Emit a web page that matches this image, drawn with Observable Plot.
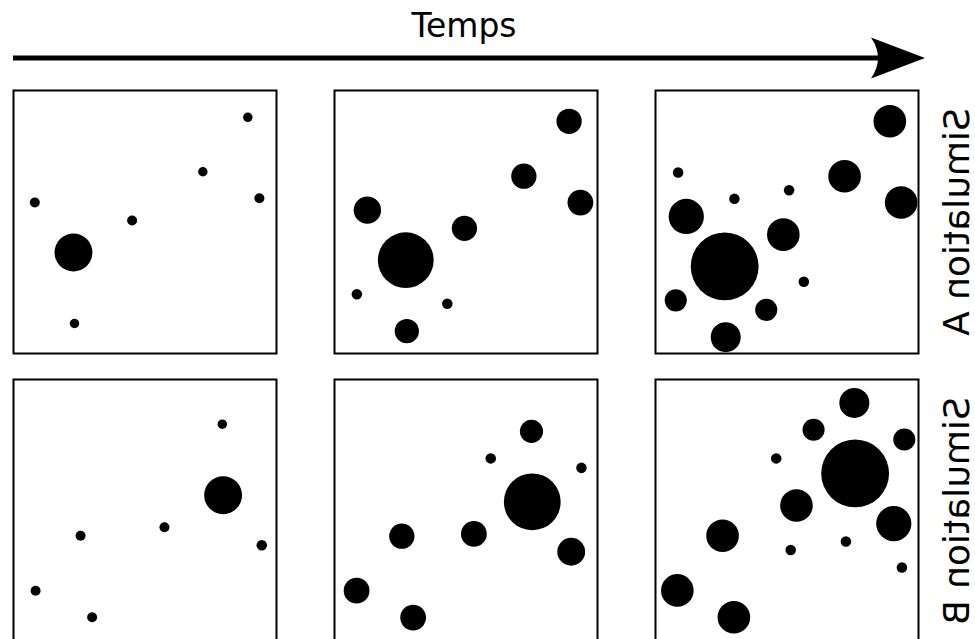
<!DOCTYPE html>
<html>
<head>
<meta charset="utf-8">
<script src="https://cdn.jsdelivr.net/npm/d3@7"></script>
<script src="https://cdn.jsdelivr.net/npm/@observablehq/plot@0.6"></script>
<style>
  html, body { margin: 0; padding: 0; background: #fff; overflow: hidden; width: 975px; height: 639px; }
  svg { display: block; }
</style>
</head>
<body>
<div id="chart"></div>
<script>
const title = "Temps";
const simulations = ["Simulation A", "Simulation B"];
const steps = [1, 2, 3];

// Each entry: [x, y, radius] in panel units (panel = 0–100 on both axes, y upward)
const simA_t1 = [
  [89.1, 89.8, 1.8], [72.0, 69.1, 1.8], [8.1, 57.4, 1.9], [93.5, 59.0, 1.9],
  [45.1, 50.6, 1.9], [22.8, 38.4, 7.2], [23.2, 11.4, 1.8]
];
const simA_t2 = [
  [89.2, 88.3, 4.8], [72.0, 67.4, 4.8], [12.5, 54.5, 5.2], [93.5, 57.4, 4.9],
  [49.4, 47.6, 4.8], [27.1, 35.5, 10.6], [8.5, 22.5, 2.0], [42.9, 18.9, 2.0],
  [27.5, 8.5, 4.6]
];
const simA_t3 = [
  [89.1, 88.3, 6.2], [71.9, 67.4, 6.2], [8.6, 68.8, 2.0], [30.0, 58.8, 2.0],
  [50.8, 62.1, 2.0], [93.4, 57.4, 6.2], [11.7, 52.1, 6.7], [48.6, 45.2, 6.2],
  [26.3, 33.1, 12.9], [56.4, 27.3, 2.0], [7.7, 20.2, 4.2], [42.1, 16.6, 4.2],
  [26.7, 6.2, 5.7]
];
const simB_t1 = [
  [79.4, 83.0, 1.8], [79.7, 56.0, 7.2], [57.4, 43.8, 1.9], [25.5, 40.6, 1.9],
  [94.4, 37.0, 2.0], [8.4, 19.7, 1.9], [29.9, 9.6, 1.9]
];
const simB_t2 = [
  [74.9, 80.3, 4.4], [59.4, 70.0, 2.0], [93.9, 66.4, 2.0], [75.2, 53.5, 10.8],
  [25.6, 40.4, 4.8], [53.0, 41.3, 4.9], [90.0, 34.5, 5.3], [8.4, 19.7, 4.9],
  [29.9, 9.5, 4.9]
];
const simB_t3 = [
  [75.6, 91.1, 5.7], [60.1, 80.9, 4.2], [94.6, 77.2, 4.2], [45.9, 70.0, 2.0],
  [75.9, 64.3, 12.9], [53.6, 52.1, 6.2], [90.6, 45.2, 6.7], [25.5, 40.6, 6.2],
  [72.4, 38.4, 2.0], [51.4, 35.2, 2.0], [93.7, 28.5, 2.0], [8.3, 19.8, 6.2],
  [29.8, 9.6, 6.2]
];

const panels = [
  [simulations[0], steps[0], simA_t1],
  [simulations[0], steps[1], simA_t2],
  [simulations[0], steps[2], simA_t3],
  [simulations[1], steps[0], simB_t1],
  [simulations[1], steps[1], simB_t2],
  [simulations[1], steps[2], simB_t3]
];
const circles = panels.flatMap(([sim, step, rows]) =>
  rows.map(([x, y, r]) => ({sim, step, x, y, r})));

// Header: title and time arrow
const header = d3.create("svg")
  .attr("width", 975).attr("height", 84).attr("viewBox", "0 0 975 84");
header.append("text")
  .attr("x", 464).attr("y", 37)
  .attr("text-anchor", "middle")
  .attr("font-family", "DejaVu Sans")
  .attr("font-size", 33)
  .attr("fill", "black")
  .text(title);
header.append("line")
  .attr("x1", 13).attr("x2", 882).attr("y1", 58).attr("y2", 58)
  .attr("stroke", "black").attr("stroke-width", 5);
header.append("path")
  .attr("d", "M925,58 L871,37.5 Q885,58 871,78.5 Z")
  .attr("fill", "black");

const plot = Plot.plot({
  width: 975,
  height: 560,
  marginLeft: 13,
  marginRight: 57,
  marginTop: 6,
  marginBottom: 2,
  style: {fontFamily: "DejaVu Sans", background: "white", color: "black"},
  x: {domain: [0, 100], axis: null},
  y: {domain: [0, 100], axis: null},
  r: {type: "linear", domain: [0, 100], range: [0, 263]},
  fx: {domain: steps, paddingInner: 58 / 321, paddingOuter: 0, axis: null, round: false},
  fy: {domain: simulations, paddingInner: 26 / 289, paddingOuter: 0, axis: null, round: false},
  marks: [
    Plot.frame({stroke: "black", strokeWidth: 2}),
    Plot.dot(circles, {x: "x", y: "y", r: "r", fx: "step", fy: "sim", fill: "black", stroke: "none"}),
    Plot.text(simulations, {
      fx: () => steps[2], fy: d => d, text: d => d,
      frameAnchor: "right", dx: 50, rotate: 90,
      lineAnchor: "bottom", textAnchor: "middle",
      fontSize: 36, fill: "black"
    })
  ]
});

// The reference shows the side labels mirrored (letter tops facing left, read downward)
plot.querySelectorAll('g[aria-label="text"], g[aria-label="text"] *').forEach(el => {
  const tr = el.getAttribute("transform");
  if (tr && /rotate\(90\)/.test(tr)) {
    el.setAttribute("transform", tr.replace(/rotate\(90\)/, "rotate(90) scale(1,-1)"));
  }
});

const chart = document.getElementById("chart");
chart.appendChild(header.node());
chart.appendChild(plot);
</script>
</body>
</html>
